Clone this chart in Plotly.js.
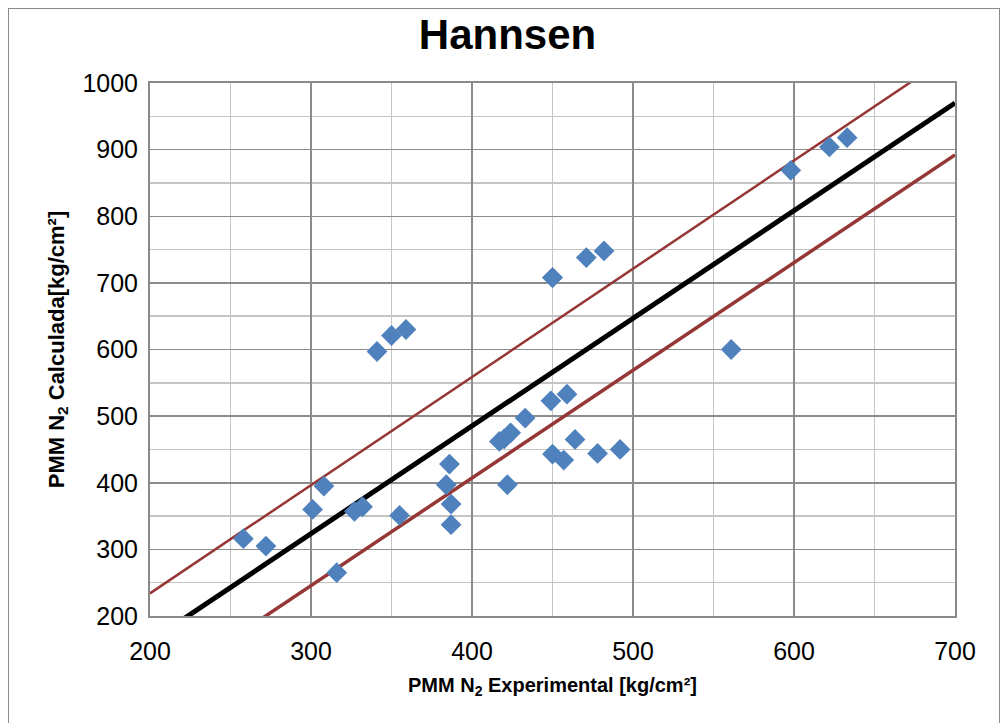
<!DOCTYPE html>
<html>
<head>
<meta charset="utf-8">
<script src="https://cdn.plot.ly/plotly-3.0.1.min.js"></script>
<style>
html,body{margin:0;padding:0;background:#fff;}
#chart{width:1005px;height:723px;}
#frame{position:absolute;left:8px;top:8px;width:990px;height:730px;border:1.5px solid #8a8a8a;pointer-events:none;}
</style>
</head>
<body>
<div id="chart"></div>
<div id="frame"></div>
<script>
// Experimental vs calculated PMM N2 values (kg/cm2)
const expX = [258, 272, 301, 308, 316, 327, 332, 341, 350, 359, 355, 384, 386, 387, 387,
              417, 420, 424, 433, 422, 449, 450, 459, 464, 450, 457, 478, 492, 450, 471, 482,
              561, 598, 622, 633];
const calcY = [316, 305, 360, 395, 265, 357, 364, 597, 621, 630, 351, 397, 428, 368, 337,
               462, 466, 475, 497, 397, 523, 708, 533, 465, 443, 434, 444, 450, 708, 738, 748,
               600, 869, 904, 918];

// Reference lines (endpoints)
const lineX = [200, 700];
const centerY = [162, 970];
const upperY = [234, 1046];
const lowerY = [84, 892];

const xTicks = [200, 300, 400, 500, 600, 700];
const yTicks = [200, 300, 400, 500, 600, 700, 800, 900, 1000];

const FONT = '"Liberation Sans Narrow", "Arial Narrow", "Liberation Sans", Arial, sans-serif';

const traces = [
  {x: lineX, y: upperY, mode: 'lines', line: {color: '#953735', width: 2.5}, hoverinfo: 'skip'},
  {x: lineX, y: lowerY, mode: 'lines', line: {color: '#953735', width: 3.5}, hoverinfo: 'skip'},
  {x: lineX, y: centerY, mode: 'lines', line: {color: '#000000', width: 5}, hoverinfo: 'skip'},
  {x: expX, y: calcY, mode: 'markers', type: 'scatter',
   marker: {symbol: 'diamond', size: 16, color: '#4F81BD'}}
];

const layout = {
  width: 1005, height: 723,
  margin: {l: 150, r: 50, t: 83, b: 107},
  paper_bgcolor: '#ffffff', plot_bgcolor: '#ffffff',
  showlegend: false,
  font: {family: FONT, color: '#000'},
  title: {text: '<b>Hannsen</b>', x: 0.505, xanchor: 'center', y: 0.952, yanchor: 'middle',
          font: {family: FONT, size: 42, color: '#000'}},
  xaxis: {
    range: [200, 700], tickvals: xTicks, ticktext: xTicks.map(String),
    ticks: 'outside', ticklen: 12, tickcolor: 'rgba(0,0,0,0)',
    tickfont: {family: FONT, size: 25},
    showgrid: true, gridcolor: '#8c8c8c', gridwidth: 1.5,
    minor: {dtick: 50, tick0: 250, showgrid: true, gridcolor: '#c4c4c4', gridwidth: 1.5},
    showline: true, linecolor: '#8a8a8a', linewidth: 2, mirror: true, zeroline: false,
    title: {text: '<b>PMM N<sub>2</sub> Experimental [kg/cm²]</b>', standoff: 14,
            font: {family: FONT, size: 20}}
  },
  yaxis: {
    range: [200, 1000], tickvals: yTicks, ticktext: yTicks.map(String),
    ticks: 'outside', ticklen: 5, tickcolor: 'rgba(0,0,0,0)',
    tickfont: {family: FONT, size: 25},
    showgrid: true, gridcolor: '#8c8c8c', gridwidth: 1.5,
    minor: {dtick: 50, tick0: 250, showgrid: true, gridcolor: '#c4c4c4', gridwidth: 1.5},
    showline: true, linecolor: '#8a8a8a', linewidth: 2, mirror: true, zeroline: false,
    title: {text: '<b>PMM N<sub>2</sub> Calculada[kg/cm²]</b>', standoff: 12,
            font: {family: FONT, size: 22}}
  }
};

Plotly.newPlot('chart', traces, layout, {displayModeBar: false, staticPlot: true});
</script>
</body>
</html>
